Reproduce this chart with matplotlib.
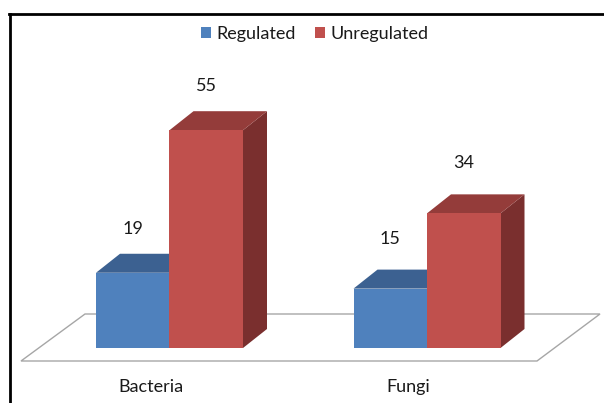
import matplotlib
matplotlib.use("Agg")
import matplotlib.pyplot as plt
import numpy as np
from matplotlib.patches import Polygon, Rectangle, Patch
from matplotlib.lines import Line2D

# Data
categories = ["Bacteria", "Fungi"]
series_names = ["Regulated", "Unregulated"]
regulated = [19, 15]
unregulated = [55, 34]

plt.rcParams["font.family"] = ["Lato", "DejaVu Sans"]
TEXT = "#1a1a1a"
FS = 13

W, H, DPI = 604, 403, 100
fig = plt.figure(figsize=(W / DPI, H / DPI), dpi=DPI)

# Plot area: zero line sits 55 px above the bottom, 3.96 px per unit
ymax = 60
ax = fig.add_axes([0, 55 / H, 1, ymax * 3.96 / H])
spacing = 257.5
ax.set_xlim(-169.5 / spacing, (W - 169.5) / spacing)
ax.set_ylim(0, ymax)
ax.axis("off")

# Floor of the 3-D box (figure pixel coordinates)
def fp(x, y):
    return (x / W, 1 - y / H)

floor = Polygon([fp(21, 361), fp(537, 361), fp(600, 314), fp(85, 314)],
                closed=True, facecolor="white", edgecolor="#a6a6a6",
                linewidth=1.0, transform=fig.transFigure, zorder=0)
fig.add_artist(floor)

# depth offset of the bars (24 px right, 19 px up) expressed in data units
o = ax.transData.transform((0, 0))
b = ax.transData.inverted().transform(o + np.array([24, 19]))
ddx, ddy = b[0], b[1]

bar_w = 73.5 / spacing
front_cols = ["#4f81bd", "#c0504d"]
top_cols = ["#3c6191", "#943c3a"]
side_cols = ["#385d8a", "#7a2f2e"]

def draw_bar(x0, h, k):
    x1 = x0 + bar_w
    side = Polygon([(x1, 0), (x1 + ddx, ddy), (x1 + ddx, h + ddy), (x1, h)],
                   closed=True, facecolor=side_cols[k], edgecolor="none", zorder=2)
    top = Polygon([(x0, h), (x1, h), (x1 + ddx, h + ddy), (x0 + ddx, h + ddy)],
                  closed=True, facecolor=top_cols[k], edgecolor="none", zorder=2)
    front = Rectangle((x0, 0), bar_w, h, facecolor=front_cols[k],
                      edgecolor="none", zorder=2)
    for p in (side, top, front):
        ax.add_patch(p)

label_off = [44, 50]
for i, cat in enumerate(categories):
    for k, vals in enumerate([regulated, unregulated]):
        x0 = i - bar_w if k == 0 else i
        draw_bar(x0, vals[i], k)
        ax.annotate(str(vals[i]), xy=(x0 + bar_w / 2, vals[i]),
                    xytext=(0, label_off[i]), textcoords="offset pixels",
                    ha="center", va="center", fontsize=FS, color=TEXT)
    ax.annotate(cat, xy=(i, 0), xytext=(-19, -39), textcoords="offset pixels",
                ha="center", va="center", fontsize=FS, color=TEXT,
                annotation_clip=False)

# Legend
handles = [Patch(facecolor=front_cols[k], edgecolor="none", label=series_names[k])
           for k in range(2)]
fig.legend(handles=handles, loc="center", ncol=2, frameon=False,
           bbox_to_anchor=(314.5 / W, 1 - 34 / H), fontsize=FS,
           handlelength=0.56, handleheight=0.53, handletextpad=0.29,
           columnspacing=1.1, borderpad=0, labelcolor=TEXT)

# Chart border (left and top edges)
fig.add_artist(Line2D([9.5 / W, 9.5 / W], [0, 1 - 14.2 / H],
                      transform=fig.transFigure, color="black", linewidth=2.0))
fig.add_artist(Line2D([8.5 / W, 1], [1 - 14.2 / H, 1 - 14.2 / H],
                      transform=fig.transFigure, color="black", linewidth=2.0))

fig.savefig("out.png", dpi=DPI)
